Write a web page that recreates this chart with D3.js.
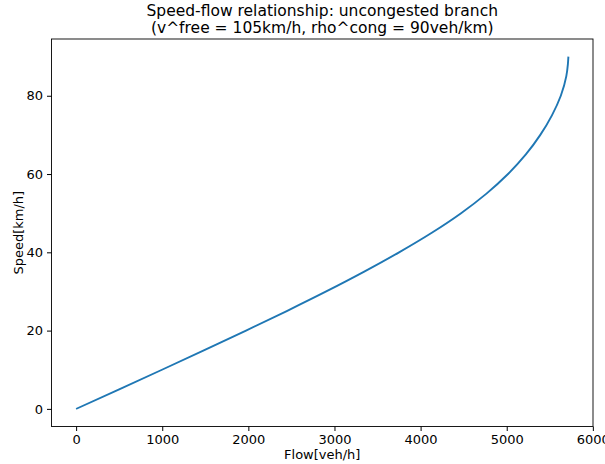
<html>
<head>
<meta charset="utf-8">
<script src="https://d3js.org/d3.v7.min.js"></script>
<style>
  body { margin: 0; background: #fff; }
  text { font-family: "DejaVu Sans", sans-serif; fill: #000; }
</style>
</head>
<body>
<svg id="chart" width="605" height="464"></svg>
<script>

// Speed (km/h) and flow (veh/h)
var speeds = [0, 5, 10, 15, 20, 25, 30, 35, 40, 45, 50, 55, 60, 65, 70, 75, 80, 85, 88, 90];
var flows  = [0, 500, 997, 1489, 1973, 2446, 2904, 3340, 3750, 4130, 4470, 4765, 5015, 5222, 5390, 5525, 5628, 5692, 5710, 5716];

var xTicks = [0, 1000, 2000, 3000, 4000, 5000, 6000];
var yTicks = [0, 20, 40, 60, 80];

var titleLines = ["Speed-flow relationship: uncongested branch",
                  "(v^free = 105km/h, rho^cong = 90veh/km)"];
var xLabel = "Flow[veh/h]";
var yLabel = "Speed[km/h]";

// plot box (window.top is reserved, so other names)
var plotL = 51.5, plotR = 593, plotT = 39, plotB = 426.5;

var svg = d3.select("#chart");

var data = speeds.map(function(s, i) { return {v: s, q: flows[i]}; });

// matplotlib style 5% padding
var qMax = d3.max(flows), vMax = d3.max(speeds);
var x = d3.scaleLinear()
  .domain([-0.05 * qMax, qMax * 1.05])
  .range([plotL, plotR]);
var y = d3.scaleLinear()
  .domain([-0.05 * vMax, vMax * 1.05])
  .range([plotB, plotT]);

// curve
var line = d3.line()
  .x(function(d) { return x(d.q); })
  .y(function(d) { return y(d.v); })
  .curve(d3.curveMonotoneY);

svg.append("path")
  .datum(data)
  .attr("d", line)
  .attr("fill", "none")
  .attr("stroke", "#1f77b4")
  .attr("stroke-width", 1.9);

// x axis
var gx = svg.append("g")
  .attr("transform", "translate(0," + plotB + ")")
  .call(d3.axisBottom(x).tickValues(xTicks).tickFormat(d3.format("d")).tickSizeOuter(0).tickSize(4.5).tickPadding(4));
gx.selectAll("text").style("font-size", "13px").attr("fill", "#000");

// y axis
var gy = svg.append("g")
  .attr("transform", "translate(" + plotL + ",0)")
  .call(d3.axisLeft(y).tickValues(yTicks).tickFormat(d3.format("d")).tickSizeOuter(0).tickSize(4.5).tickPadding(4));
gy.selectAll("text").style("font-size", "13px").attr("fill", "#000");

svg.selectAll(".domain").remove();

// frame
svg.append("rect")
  .attr("x", plotL).attr("y", plotT)
  .attr("width", plotR - plotL).attr("height", plotB - plotT)
  .attr("fill", "none")
  .attr("stroke", "#000")
  .attr("stroke-width", 0.9);

// axis labels
svg.append("text")
  .attr("x", (plotL + plotR) / 2)
  .attr("y", 459)
  .attr("text-anchor", "middle")
  .style("font-size", "13px")
  .text(xLabel);

svg.append("text")
  .attr("transform", "translate(23," + ((plotT + plotB) / 2) + ") rotate(-90)")
  .attr("text-anchor", "middle")
  .style("font-size", "13px")
  .text(yLabel);

// title
svg.selectAll(".title")
  .data(titleLines)
  .enter().append("text")
  .attr("class", "title")
  .attr("x", (plotL + plotR) / 2)
  .attr("y", function(d, i) { return 16 + i * 17; })
  .attr("text-anchor", "middle")
  .style("font-size", "15.5px")
  .text(function(d) { return d; });

</script>
</body>
</html>
